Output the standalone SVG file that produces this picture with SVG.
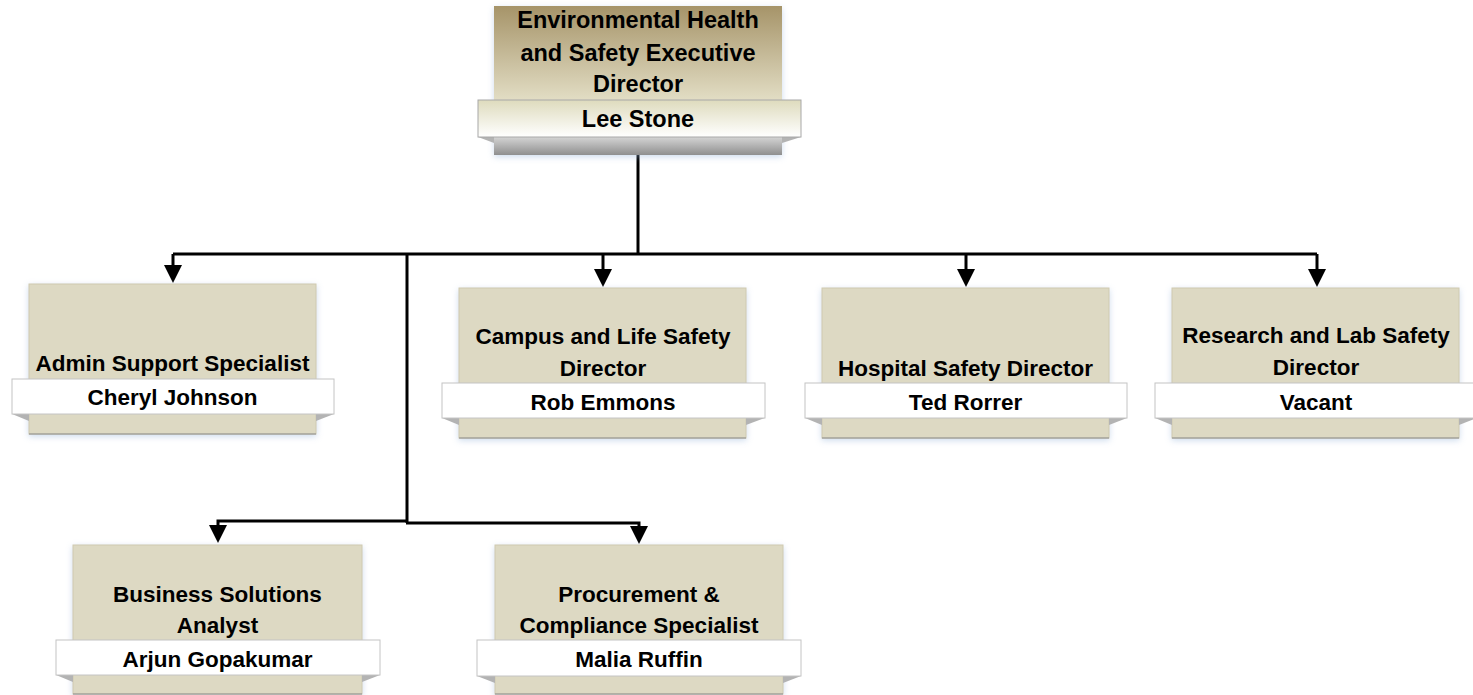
<svg xmlns="http://www.w3.org/2000/svg" width="1473" height="695" viewBox="0 0 1473 695">
<style>
text{font-family:"Liberation Sans",Arial,sans-serif;font-weight:bold;font-size:22.5px;fill:#000;text-anchor:middle}
.big{font-size:23.5px}
.box{fill:#ddd9c3;stroke:#cfcab0;stroke-width:1}
.base{stroke:#8c8c8c;stroke-width:1.2}
.band{fill:#ffffff;stroke:#c4c4c4;stroke-width:1}
.fold{fill:#b3b3b3}
.conn{fill:none;stroke:#000;stroke-width:3}
</style>
<defs>
<linearGradient id="topg" x1="0" y1="0" x2="0" y2="1">
<stop offset="0" stop-color="#a69469"/>
<stop offset="1" stop-color="#e2ddc4"/>
</linearGradient>
<linearGradient id="bandg" x1="0" y1="0" x2="0" y2="1">
<stop offset="0" stop-color="#dedbbd"/>
<stop offset="1" stop-color="#ffffff"/>
</linearGradient>
<linearGradient id="greyg" x1="0" y1="0" x2="0" y2="1">
<stop offset="0" stop-color="#d4d4d4"/>
<stop offset="1" stop-color="#8f8f8f"/>
</linearGradient>
<filter id="sh" x="-10%" y="-10%" width="120%" height="130%">
<feDropShadow dx="0" dy="2" stdDeviation="3" flood-color="#8fb0d8" flood-opacity="0.45"/>
</filter>
<marker id="ah" markerUnits="userSpaceOnUse" markerWidth="18" markerHeight="18" refX="8" refY="9" orient="auto" viewBox="0 0 18 18">
<path d="M0,0 L18,9 L0,18 z" fill="#000"/>
</marker>
</defs>

<g id="connectors">
<path class="conn" d="M638 155 V254"/>
<path class="conn" d="M173 254 H1317"/>
<path class="conn" d="M173 254 V273" marker-end="url(#ah)"/>
<path class="conn" d="M603 254 V277" marker-end="url(#ah)"/>
<path class="conn" d="M966 254 V277" marker-end="url(#ah)"/>
<path class="conn" d="M1317 254 V277" marker-end="url(#ah)"/>
<path class="conn" d="M407 254 V523"/>
<path class="conn" d="M408 521 H218 V533" marker-end="url(#ah)"/>
<path class="conn" d="M406 523 H639 V534" marker-end="url(#ah)"/>
</g>

<g id="node-exec">
<rect x="494" y="6" width="288" height="149" fill="url(#greyg)" filter="url(#sh)"/>
<rect x="494" y="6" width="288" height="94" fill="url(#topg)"/>
<rect x="494" y="137" width="288" height="18" fill="url(#greyg)"/>
<polygon class="fold" points="478,137 494,137 494,143"/>
<polygon class="fold" points="782,137 801,137 782,143"/>
<rect x="478" y="100" width="323" height="37" fill="url(#bandg)" stroke="#a8a8a8" stroke-width="1"/>
<text class="big" x="638" y="28">Environmental Health</text>
<text class="big" x="638" y="61">and Safety Executive</text>
<text class="big" x="638" y="92">Director</text>
<text class="big" x="638" y="127">Lee Stone</text>
</g>

<g id="node-admin">
<rect class="box" x="29" y="284" width="287" height="150" filter="url(#sh)"/>
<line class="base" x1="29" y1="434" x2="316" y2="434"/>
<polygon class="fold" points="12,414 29,414 29,421"/>
<polygon class="fold" points="316,414 334,414 316,421"/>
<rect class="band" x="12" y="379" width="322" height="35"/>
<text x="172.5" y="371">Admin Support Specialist</text>
<text x="172.5" y="405">Cheryl Johnson</text>
</g>

<g id="node-campus">
<rect class="box" x="459" y="288" width="287" height="150" filter="url(#sh)"/>
<line class="base" x1="459" y1="438" x2="746" y2="438"/>
<polygon class="fold" points="442,418 459,418 459,425"/>
<polygon class="fold" points="746,418 765,418 746,425"/>
<rect class="band" x="442" y="383" width="323" height="35"/>
<text x="603" y="344">Campus and Life Safety</text>
<text x="603" y="376">Director</text>
<text x="603" y="410">Rob Emmons</text>
</g>

<g id="node-hospital">
<rect class="box" x="822" y="288" width="287" height="150" filter="url(#sh)"/>
<line class="base" x1="822" y1="438" x2="1109" y2="438"/>
<polygon class="fold" points="805,418 822,418 822,425"/>
<polygon class="fold" points="1109,418 1127,418 1109,425"/>
<rect class="band" x="805" y="383" width="322" height="35"/>
<text x="965.5" y="376">Hospital Safety Director</text>
<text x="965.5" y="410">Ted Rorrer</text>
</g>

<g id="node-research">
<rect class="box" x="1172" y="288" width="287" height="150" filter="url(#sh)"/>
<line class="base" x1="1172" y1="438" x2="1459" y2="438"/>
<polygon class="fold" points="1155,418 1172,418 1172,425"/>
<polygon class="fold" points="1459,418 1477,418 1459,425"/>
<rect class="band" x="1155" y="383" width="322" height="35"/>
<text x="1316" y="343">Research and Lab Safety</text>
<text x="1316" y="375">Director</text>
<text x="1316" y="410">Vacant</text>
</g>

<g id="node-business">
<rect class="box" x="73" y="545" width="289" height="149" filter="url(#sh)"/>
<line class="base" x1="73" y1="694" x2="362" y2="694"/>
<polygon class="fold" points="56,675 73,675 73,682"/>
<polygon class="fold" points="362,675 380,675 362,682"/>
<rect class="band" x="56" y="640" width="324" height="35"/>
<text x="217.5" y="602">Business Solutions</text>
<text x="217.5" y="633">Analyst</text>
<text x="217.5" y="667">Arjun Gopakumar</text>
</g>

<g id="node-procurement">
<rect class="box" x="495" y="545" width="288" height="149" filter="url(#sh)"/>
<line class="base" x1="495" y1="694" x2="783" y2="694"/>
<polygon class="fold" points="477,676 495,676 495,683"/>
<polygon class="fold" points="783,676 801,676 783,683"/>
<rect class="band" x="477" y="640" width="324" height="36"/>
<text x="639" y="602">Procurement &amp;</text>
<text x="639" y="633">Compliance Specialist</text>
<text x="639" y="667">Malia Ruffin</text>
</g>
</svg>
